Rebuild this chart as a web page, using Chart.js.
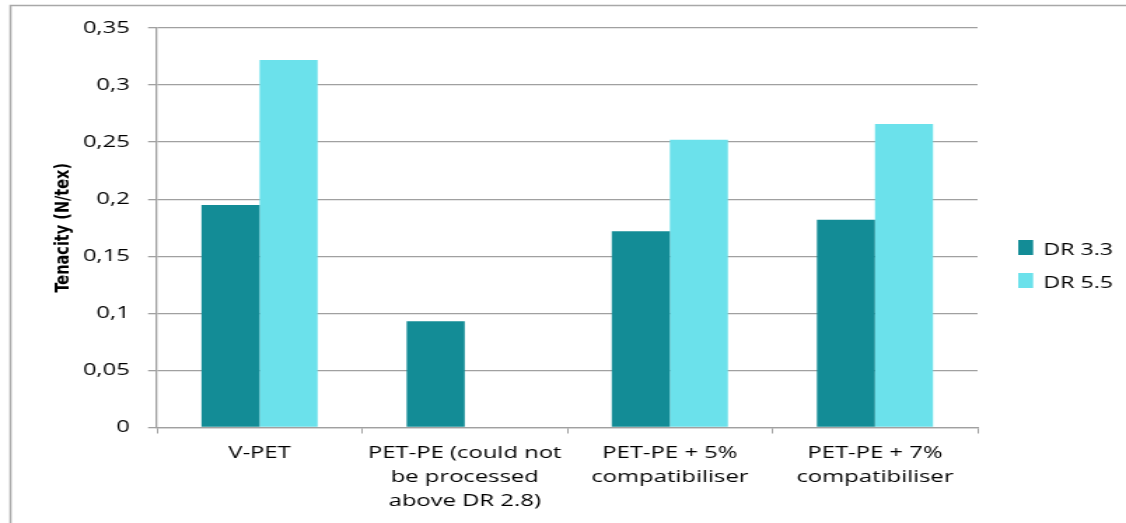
<!DOCTYPE html>
<html>
<head>
<meta charset="utf-8">
<script src="https://cdn.jsdelivr.net/npm/chart.js@4.4.1/dist/chart.umd.min.js"></script>
<style>
  html, body { margin: 0; padding: 0; background: #fff; overflow: hidden; }
  /* the chart is laid out narrow and widened horizontally */
  #wrap { position: absolute; left: 0; top: 0; width: 804px; height: 523px;
          transform: scaleX(1.4005); transform-origin: 0 0; }
</style>
</head>
<body>
<div id="wrap"><canvas id="c"></canvas></div>
<script>
const categories = [
  'V-PET',
  ['PET-PE (could not', 'be processed', 'above DR 2.8)'],
  ['PET-PE + 5%', 'compatibiliser'],
  ['PET-PE + 7%', 'compatibiliser']
];
const seriesNames = ['DR 3.3', 'DR 5.5'];
const dr33 = [0.195, 0.093, 0.172, 0.182];
const dr55 = [0.322, null, 0.252, 0.266];
const yTickLabels = ['0', '0,05', '0,1', '0,15', '0,2', '0,25', '0,3', '0,35'];
const yTitle = 'Tenacity (N/tex)';

const colors = ['#138C96', '#6BE1EB'];
const grey = '#A0A0A0';
const tickFont = { family: '"Open Sans"', size: 17, lineHeight: 1.4 };

// frame, axis title and legend
const decorations = {
  id: 'decorations',
  beforeDraw(chart) {
    const ctx = chart.ctx;
    ctx.save();
    ctx.strokeStyle = '#A8A8A8';
    ctx.lineWidth = 1.5;
    ctx.beginPath();
    ctx.moveTo(7.5, 530);
    ctx.lineTo(7.5, 5.5);
    ctx.lineTo(chart.width + 5, 5.5);
    ctx.stroke();
    ctx.restore();
  },
  afterDraw(chart) {
    const ctx = chart.ctx;
    const area = chart.chartArea;
    ctx.save();
    ctx.fillStyle = '#000';
    ctx.font = 'bold 14.5px "DejaVu Sans"';
    ctx.textAlign = 'center';
    ctx.textBaseline = 'middle';
    ctx.translate(45, (area.top + area.bottom) / 2);
    ctx.rotate(-Math.PI / 2);
    ctx.fillText(yTitle, 0, 0);
    ctx.restore();

    ctx.save();
    ctx.font = '16.5px "Open Sans"';
    ctx.textAlign = 'left';
    ctx.textBaseline = 'alphabetic';
    chart.data.datasets.forEach((ds, i) => {
      const y = 240 + i * 33;
      ctx.fillStyle = ds.backgroundColor;
      ctx.fillRect(727, y, 10.7, 15);
      ctx.fillStyle = '#000';
      ctx.fillText(ds.label, 745, y + 14.5);
    });
    ctx.restore();
  }
};

new Chart(document.getElementById('c'), {
  type: 'bar',
  data: {
    labels: categories,
    datasets: [
      { label: seriesNames[0], data: dr33, backgroundColor: colors[0] },
      { label: seriesNames[1], data: dr55, backgroundColor: colors[1] }
    ]
  },
  options: {
    responsive: true,
    maintainAspectRatio: false,
    animation: false,
    devicePixelRatio: 1,
    layout: { padding: { left: 0, top: 28, right: 106, bottom: 0 } },
    datasets: { bar: { categoryPercentage: 0.566, barPercentage: 1.0, borderWidth: 0 } },
    plugins: { legend: { display: false }, tooltip: { enabled: false } },
    scales: {
      x: {
        grid: { display: true, drawOnChartArea: false, offset: true, color: grey, tickLength: 6, lineWidth: 1 },
        border: { display: true, color: grey, width: 1.3 },
        ticks: { color: '#000', font: tickFont, padding: 8, maxRotation: 0, autoSkip: false },
        afterFit(scale) { scale.height = 95.5; }
      },
      y: {
        min: 0,
        max: 0.35,
        grid: { color: grey, lineWidth: 1.3, tickLength: 6.4 },
        border: { display: true, color: grey, width: 1.3 },
        ticks: {
          stepSize: 0.05,
          color: '#000',
          font: tickFont,
          padding: 13,
          callback: (v, i) => yTickLabels[i]
        },
        afterFit(scale) { scale.width = 112.1; }
      }
    }
  },
  plugins: [decorations]
});
</script>
</body>
</html>
